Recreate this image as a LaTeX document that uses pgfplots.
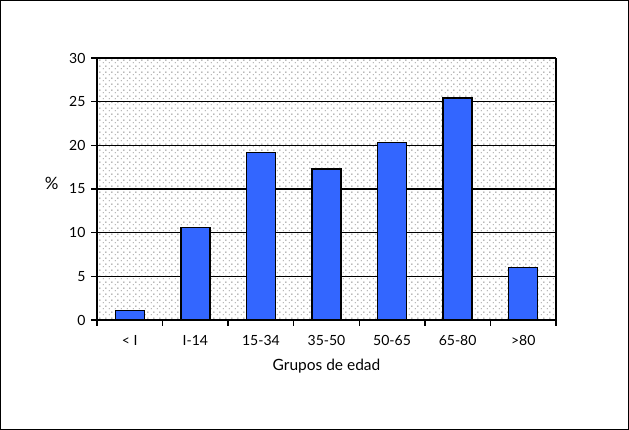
\documentclass[border=0pt]{standalone}
\usepackage{pgfplots}
\pgfplotsset{compat=1.18}
\usepackage{fontspec}
\setmainfont{Lato}
\usetikzlibrary{patterns}
\pgfdeclarepatternformonly{mydots}{\pgfqpoint{0pt}{0pt}}{\pgfqpoint{6pt}{6pt}}{\pgfqpoint{6pt}{6pt}}{%
  \pgfpathrectangle{\pgfqpoint{1pt}{1pt}}{\pgfqpoint{1pt}{1pt}}%
  \pgfpathrectangle{\pgfqpoint{4pt}{4pt}}{\pgfqpoint{1pt}{1pt}}%
  \pgfusepath{fill}}
\definecolor{barblue}{HTML}{3366FF}
\begin{document}
\begin{tikzpicture}[x=1pt,y=1pt]
\useasboundingbox (0,0) rectangle (629,430);
\draw[line width=0.8pt] (0.4,0.4) rectangle (628.6,429.6);
\begin{axis}[
  at={(97pt,110pt)}, anchor=south west,
  width=459pt, height=262pt, scale only axis,
  xmin=-0.5, xmax=6.5, ymin=0, ymax=30,
  ytick={0,5,...,30},
  xtick={0,...,6},
  xticklabels={{< I},{I-14},{15-34},{35-50},{50-65},{65-80},{>80}},
  minor xtick={-0.5,0.5,...,6.5},
  major x tick style={draw=none},
  minor x tick style={black, line width=1.4pt},
  y tick style={black, line width=1.4pt},
  major tick length=6pt, minor tick length=6pt,
  tick align=outside,
  ymajorgrids, grid style={black, line width=1.6pt},
  axis line style={black, line width=1.8pt},
  axis x line*=bottom, axis y line*=left,
  axis background/.style={pattern=mydots, pattern color=black!65},
  tick label style={font=\fontsize{14}{16}\selectfont},
  /pgf/number format/assume math mode=true,
  yticklabel style={xshift=-2pt},
  xticklabel style={yshift=-6pt},
  xlabel={Grupos de edad},
  xlabel style={font=\fontsize{15.5}{18}\selectfont, yshift=-6pt},
  ylabel={\%},
  every axis y label/.style={at={(rel axis cs:0,0.52)}, anchor=east, xshift=-35pt, font=\fontsize{17}{19}\selectfont},
  clip=false,
]
\draw[black, line width=1.5pt] (rel axis cs:1,0) -- (rel axis cs:1,1);
\draw[black, line width=1.6pt] (rel axis cs:0,1) -- (rel axis cs:1,1);
\addplot[ybar, bar width=29pt, fill=barblue, draw=black, line width=1.4pt] coordinates {
  (0,1.1) (1,10.6) (2,19.2) (3,17.3) (4,20.3) (5,25.4) (6,6.0)
};
\end{axis}
\end{tikzpicture}
\end{document}
